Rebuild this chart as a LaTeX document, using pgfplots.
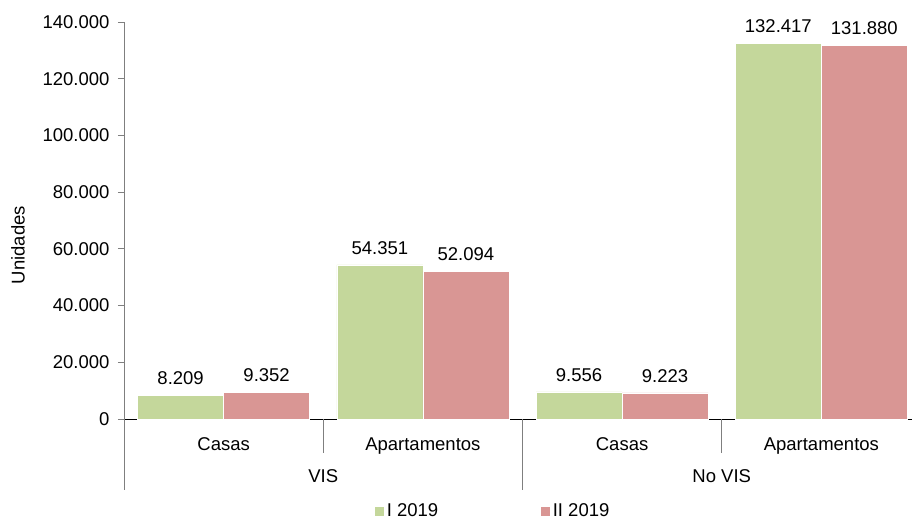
\documentclass[border=0pt]{standalone}
\usepackage{pgfplots}
\pgfplotsset{compat=1.18}
\usepackage{fontspec}
\setmainfont{Liberation Sans}
\definecolor{cgreen}{HTML}{C4D79B}
\definecolor{cred}{HTML}{D99694}
\definecolor{axgray}{HTML}{7F7F7F}
\begin{document}
\begin{tikzpicture}
\newcommand{\fs}{\fontsize{18.5}{22}\selectfont}
\begin{axis}[
  at={(0,0)}, anchor=south west,
  scale only axis,
  width=788pt, height=397pt,
  xmin=-0.5, xmax=3.455,
  ymin=0, ymax=140000,
  ytick distance=20000,
  axis x line=bottom, axis y line=left,
  axis line style={-},
  x axis line style={black, line width=0.8pt},
  y axis line style={axgray, line width=0.8pt},
  ytick style={axgray, line width=0.8pt},
  tick align=outside,
  major tick length=6pt,
  xtick=data,
  xticklabels={Casas, Apartamentos, Casas, Apartamentos},
  major x tick style={draw=none},
  x tick label style={yshift=-9pt},
  y tick label style={xshift=-5pt},
  tick label style={font=\fs},
  /pgf/number format/.cd, fixed, 1000 sep={.}, assume math mode=true,
  /pgfplots/.cd,
  scaled y ticks=false,
  ybar=0pt, bar width=86pt,
  clip=false,
  nodes near coords,
  every node near coord/.append style={font=\fs, yshift=7pt, black},
  legend style={at={(axis description cs:0.468,-0.232)}, anchor=center, draw=none, font=\fs,
    legend columns=2, /tikz/every even column/.append style={column sep=100pt}},
  legend image code/.code={\fill[#1] (2pt,-5pt) rectangle (12pt,5pt);},
]
\addplot[fill=cgreen, draw=white, line width=0.6pt] coordinates {(0,8209) (1,54351) (2,9556) (3,132417)};
\addplot[fill=cred, draw=white, line width=0.6pt] coordinates {(0,9352) (1,52094) (2,9223) (3,131880)};
\legend{I 2019, II 2019}
\draw[axgray, line width=0.8pt] (axis cs:-0.5,0) -- ([yshift=-71pt]axis cs:-0.5,0);
\draw[axgray, line width=0.8pt] (axis cs:0.5,0) -- ([yshift=-34pt]axis cs:0.5,0);
\draw[axgray, line width=0.8pt] (axis cs:1.5,0) -- ([yshift=-71pt]axis cs:1.5,0);
\draw[axgray, line width=0.8pt] (axis cs:2.5,0) -- ([yshift=-34pt]axis cs:2.5,0);
\node[font=\fs] at ([yshift=-57pt]axis cs:0.5,0) {VIS};
\node[font=\fs] at ([yshift=-57pt]axis cs:2.5,0) {No VIS};
\end{axis}
\node[font=\fs, rotate=90] at (-106pt,174pt) {Unidades};
\pgfresetboundingbox
\useasboundingbox (-124pt,-102pt) rectangle (788pt,419pt);
\end{tikzpicture}
\end{document}
